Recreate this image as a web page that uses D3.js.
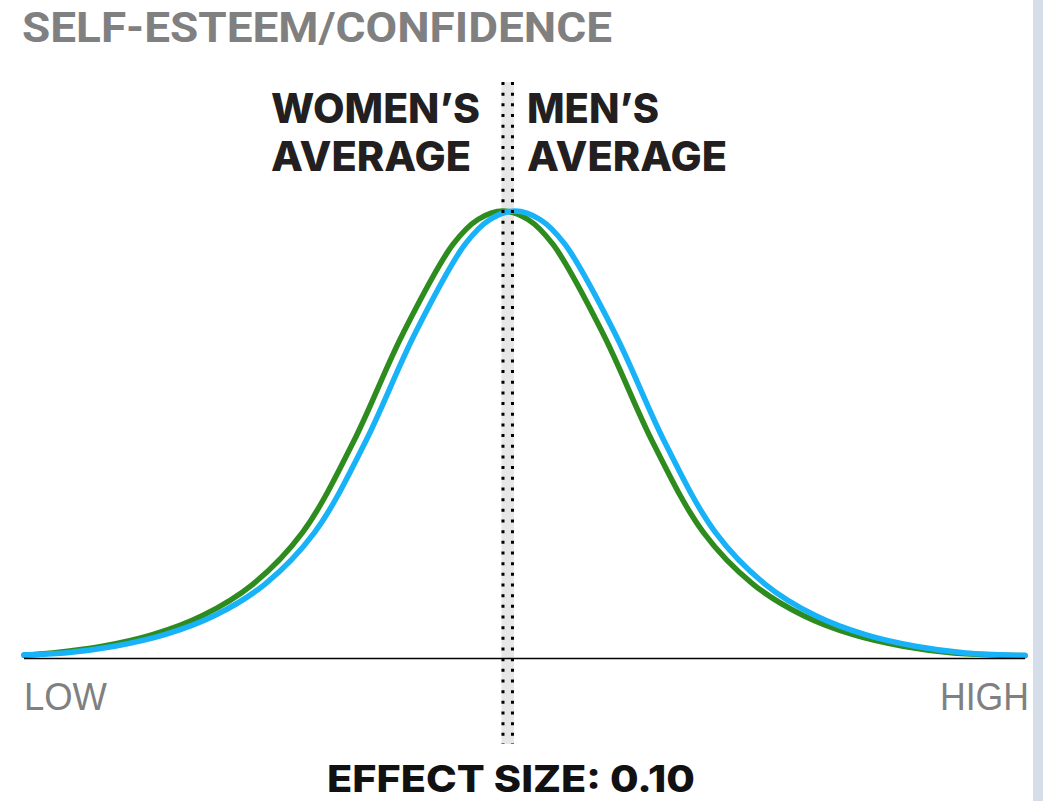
<!DOCTYPE html>
<html>
<head>
<meta charset="utf-8">
<script src="https://cdn.jsdelivr.net/npm/d3@7"></script>
<style>
  html, body { margin: 0; padding: 0; background: #ffffff; }
  svg { display: block; }
</style>
</head>
<body>
<div id="chart"></div>
<script>
// ---------- data ----------
const title = "SELF-ESTEEM/CONFIDENCE";
const womenLabel = ["WOMEN\u2019S", "AVERAGE"];
const menLabel = ["MEN\u2019S", "AVERAGE"];
const axisLabels = ["LOW", "HIGH"];
const footer = "EFFECT SIZE: 0.10";

// score axis: 0 = LOW ... 100 = HIGH ; density relative to peak height
const womenScores  = [0, 2.85, 7.85, 12.85, 17.85, 22.85, 27.85, 32.85, 37.85, 42.85, 45.35, 47.85, 50.35, 52.85, 57.85, 62.85, 67.85, 72.85, 77.85, 82.85, 87.85, 92.85, 97.85, 100];
const womenDensity = [0.004, 0.009, 0.024, 0.05, 0.093, 0.163, 0.28, 0.48, 0.725, 0.925, 0.981, 1.0, 0.981, 0.925, 0.725, 0.48, 0.28, 0.163, 0.093, 0.05, 0.024, 0.009, 0.004, 0.003];

const menScores  = [0, 4.05, 9.05, 14.05, 19.05, 24.05, 29.05, 34.05, 39.05, 44.05, 46.55, 49.05, 51.55, 54.05, 59.05, 64.05, 69.05, 74.05, 79.05, 84.05, 89.05, 94.05, 99.05, 100];
const menDensity = [0.005, 0.009, 0.024, 0.05, 0.093, 0.163, 0.28, 0.48, 0.725, 0.925, 0.981, 1.0, 0.981, 0.925, 0.725, 0.48, 0.28, 0.163, 0.093, 0.05, 0.024, 0.009, 0.004, 0.004];

const womenMean = 47.85;
const menMean = 48.8;

// ---------- drawing ----------
const W = 1043, H = 801;
const svg = d3.select("#chart").append("svg").attr("width", W).attr("height", H);

// right-side page strip
svg.append("rect").attr("x", 1033).attr("y", 0).attr("width", W - 1033).attr("height", H).attr("fill", "#d5dee8");

const x = d3.scaleLinear().domain([0, 100]).range([24, 1025]);
const y = d3.scaleLinear().domain([0, 1]).range([657, 211]);

// title
svg.append("text").text(title)
  .attr("x", 22).attr("y", 42)
  .attr("font-family", "Roboto, 'Liberation Sans', sans-serif")
  .attr("font-weight", 700).attr("font-size", 43)
  .attr("fill", "#808080")
  .attr("textLength", 590).attr("lengthAdjust", "spacingAndGlyphs");

// gray band behind dotted mean lines
svg.append("rect")
  .attr("x", x(womenMean) - 1.5)
  .attr("y", 82)
  .attr("width", x(menMean) - x(womenMean) + 3)
  .attr("height", 662)
  .attr("fill", "#e7e7e7");

// curves
const line = d3.line().x(d => x(d[0])).y(d => y(d[1])).curve(d3.curveCatmullRom.alpha(0.5));
const womenPts = womenScores.map((s, i) => [s, womenDensity[i]]);
const menPts = menScores.map((s, i) => [s, menDensity[i]]);

svg.append("path").attr("d", line(womenPts))
  .attr("fill", "none").attr("stroke", "#2e8c1f").attr("stroke-width", 5.5).attr("stroke-linecap", "round");
svg.append("path").attr("d", line(menPts))
  .attr("fill", "none").attr("stroke", "#17b2f7").attr("stroke-width", 5.5).attr("stroke-linecap", "round");

// baseline
svg.append("line")
  .attr("x1", x(0)).attr("x2", x(100)).attr("y1", 658.5).attr("y2", 658.5)
  .attr("stroke", "#000").attr("stroke-width", 1.5);

// dotted mean lines
[womenMean, menMean].forEach(m => {
  svg.append("line")
    .attr("x1", x(m)).attr("x2", x(m))
    .attr("y1", 82).attr("y2", 744)
    .attr("stroke", "#000").attr("stroke-width", 3)
    .attr("stroke-dasharray", "3 7.67");
});

// labels
const labelFont = "Inter, Roboto, 'Liberation Sans', sans-serif";
function lab(txt, xx, yy, len) {
  svg.append("text").text(txt)
    .attr("x", xx).attr("y", yy)
    .attr("font-family", labelFont).attr("font-weight", 800).attr("font-size", 41)
    .attr("fill", "#231f20")
    .attr("textLength", len).attr("lengthAdjust", "spacingAndGlyphs");
}
lab(womenLabel[0], 271, 123, 209);
lab(womenLabel[1], 271, 171, 200);
lab(menLabel[0], 527, 123, 132);
lab(menLabel[1], 527, 171, 200);

// LOW / HIGH
svg.append("text").text(axisLabels[0])
  .attr("x", 24).attr("y", 710)
  .attr("font-family", "'Liberation Sans', Arial, sans-serif").attr("font-size", 39)
  .attr("fill", "#808080")
  .attr("textLength", 83).attr("lengthAdjust", "spacingAndGlyphs");
svg.append("text").text(axisLabels[1])
  .attr("x", 940).attr("y", 710)
  .attr("font-family", "'Liberation Sans', Arial, sans-serif").attr("font-size", 39)
  .attr("fill", "#808080")
  .attr("textLength", 89).attr("lengthAdjust", "spacingAndGlyphs");

// footer
svg.append("text").text(footer)
  .attr("x", 327).attr("y", 792)
  .attr("font-family", labelFont).attr("font-weight", 800).attr("font-size", 37)
  .attr("fill", "#111")
  .attr("textLength", 368).attr("lengthAdjust", "spacingAndGlyphs");
</script>
</body>
</html>
